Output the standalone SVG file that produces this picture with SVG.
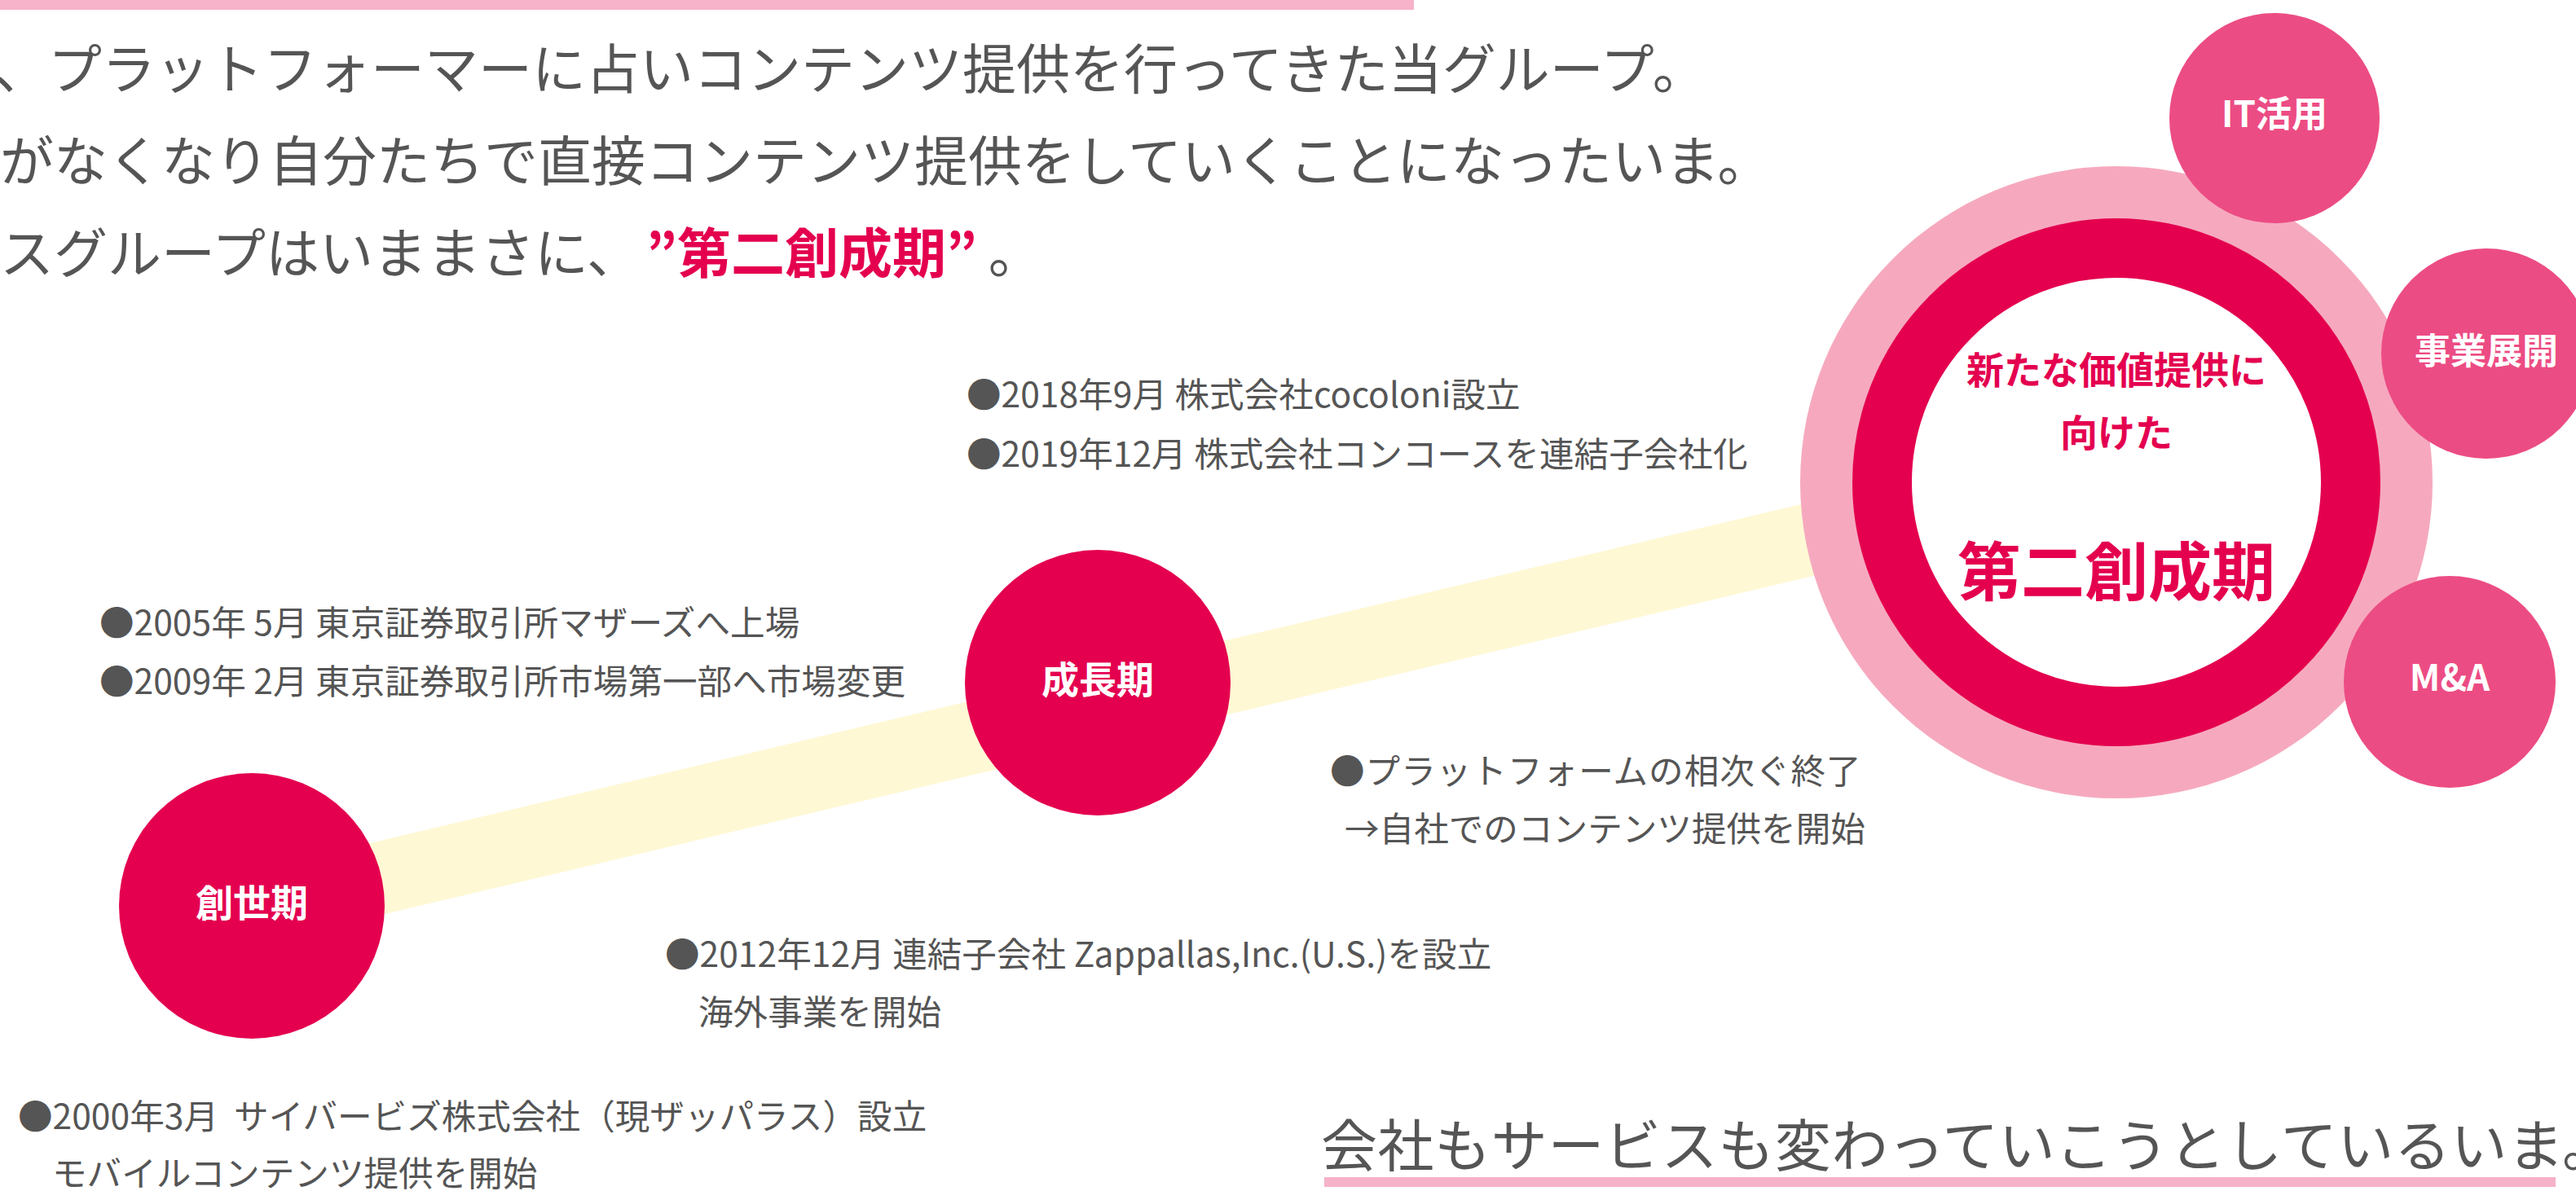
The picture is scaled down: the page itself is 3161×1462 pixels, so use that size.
<svg xmlns="http://www.w3.org/2000/svg" width="3161" height="1462" viewBox="0 0 3161 1462">
<style>
text{font-family:"Noto Sans CJK JP","Noto Sans",sans-serif;}
.lead{font-size:66px;fill:#555;}
.item{font-size:42.6px;fill:#555;}
.hl{font-weight:700;fill:#e4004f;}
.lbl{font-size:46px;font-weight:700;fill:#fff;text-anchor:middle;}
.sat{font-size:44px;font-weight:700;fill:#fff;text-anchor:middle;}
.core{font-weight:700;fill:#e4004f;text-anchor:middle;}
.phase{fill:#e4004f;}
.satc{fill:#ec4c84;}
.deco{fill:#f6b2c8;}
</style>
<rect class="deco" x="0" y="0" width="1735" height="12"/>
<g id="lead">
<text class="lead" x="-7" y="109">、プラットフォーマーに占いコンテンツ提供を行ってきた当グループ。</text>
<text class="lead" x="0" y="222">がなくなり自分たちで直接コンテンツ提供をしていくことになったいま。</text>
<text class="lead" x="0" y="335">スグループはいままさに、<tspan class="hl" dx="40">”第二創成期”</tspan><tspan dx="14">。</tspan></text>
</g>
<g id="connectors">
<line x1="309" y1="1115" x2="2420" y2="615" stroke="#fff8d5" stroke-width="89"/>
</g>
<g id="node-soseiki">
<circle class="phase" cx="309" cy="1112" r="163"/>
<text class="lbl" x="309" y="1125">創世期</text>
</g>
<g id="node-seichoki">
<circle class="phase" cx="1347" cy="838" r="163"/>
<text class="lbl" x="1347" y="851">成長期</text>
</g>
<g id="node-dai2">
<circle cx="2597" cy="592" r="388" fill="#f6a9be"/>
<circle cx="2597" cy="592" r="287.5" fill="#fff" stroke="#e4004f" stroke-width="73"/>
<text class="core" x="2597" y="471" font-size="46">新たな価値提供に</text>
<text class="core" x="2597" y="548" font-size="46">向けた</text>
<text class="core" x="2597" y="731" font-size="78">第二創成期</text>
</g>
<g id="node-it">
<circle class="satc" cx="2791" cy="145" r="129"/>
<text class="sat" x="2791" y="156">IT活用</text>
</g>
<g id="node-jigyo">
<circle class="satc" cx="3051" cy="434" r="129"/>
<text class="sat" x="3051" y="447">事業展開</text>
</g>
<g id="node-ma">
<circle class="satc" cx="3006" cy="837" r="130"/>
<text class="sat" x="3006" y="848">M&amp;A</text>
</g>
<g id="events">
<text class="item" x="122" y="780">●2005年 5月 東京証券取引所マザーズへ上場</text>
<text class="item" x="122" y="852">●2009年 2月 東京証券取引所市場第一部へ市場変更</text>
<text class="item" x="1186" y="500">●2018年9月 株式会社cocoloni設立</text>
<text class="item" x="1186" y="573">●2019年12月 株式会社コンコースを連結子会社化</text>
<text class="item" x="1632" y="962" letter-spacing="1">●プラットフォームの相次ぐ終了</text>
<text class="item" x="1650" y="1033">→自社でのコンテンツ提供を開始</text>
<text class="item" x="816" y="1187">●2012年12月 連結子会社 Zappallas,Inc.(U.S.)を設立</text>
<text class="item" x="857" y="1258">海外事業を開始</text>
<text class="item" x="22" y="1386">●2000年3月&#160; サイバービズ株式会社（現ザッパラス）設立</text>
<text class="item" x="64" y="1456">モバイルコンテンツ提供を開始</text>
</g>
<g id="closing">
<text x="1621" y="1432" font-size="69" fill="#555" letter-spacing="0.6">会社もサービスも変わっていこうとしているいま。</text>
<rect class="deco" x="1625" y="1445" width="1511" height="12"/>
</g>
</svg>
